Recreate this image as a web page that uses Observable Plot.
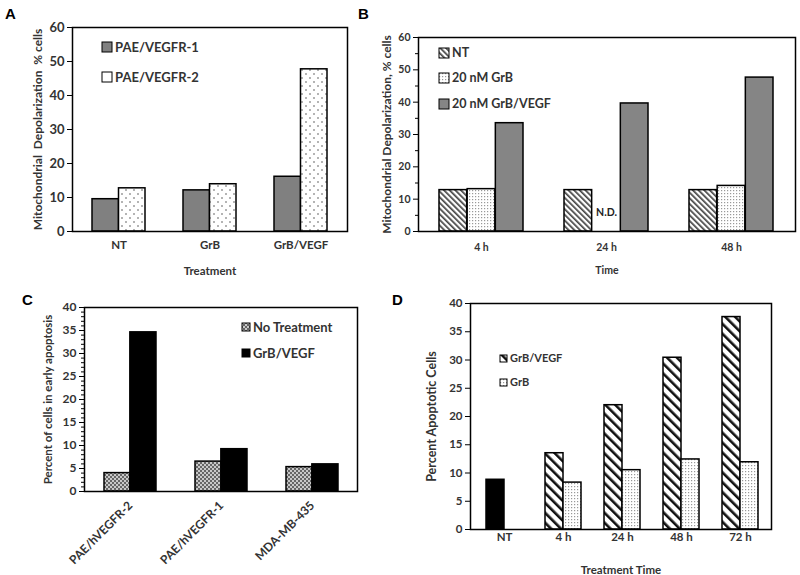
<!DOCTYPE html>
<html><head><meta charset="utf-8">
<script src="https://cdn.jsdelivr.net/npm/d3@7"></script>
<script src="https://cdn.jsdelivr.net/npm/@observablehq/plot@0.6"></script>
<style>
body{margin:0;background:#fff;font-family:Lato,"Open Sans",sans-serif;}
#root{position:relative;width:800px;height:575px;overflow:hidden;background:#fff;}
.panel{position:absolute;}
.letter{position:absolute;font-family:"Liberation Sans",Arial,sans-serif;font-weight:bold;font-size:15px;line-height:15px;color:#000;}
.lg{position:absolute;display:flex;align-items:center;gap:2px;font-weight:bold;color:#333;white-space:nowrap;line-height:16px;height:16px;}
.lg svg{display:block;flex:none;}
</style></head><body>
<svg width="0" height="0" style="position:absolute">
<defs>
<pattern id="dotsSparse" width="8" height="8" patternUnits="userSpaceOnUse">
 <rect width="8" height="8" fill="#fff"/>
 <circle cx="2" cy="2" r="0.8" fill="#555"/><circle cx="6" cy="6" r="0.8" fill="#555"/>
</pattern>
<pattern id="dotsFine" width="3" height="3" patternUnits="userSpaceOnUse">
 <rect width="3" height="3" fill="#fff"/><rect x="1" y="1" width="1.2" height="1.2" fill="#999"/>
</pattern>
<pattern id="hatchFine" width="4" height="4" patternUnits="userSpaceOnUse" patternTransform="rotate(-45)">
 <rect width="4" height="4" fill="#fff"/><rect width="1.7" height="4" fill="#444"/>
</pattern>
<pattern id="hatchWide" width="7" height="7" patternUnits="userSpaceOnUse" patternTransform="rotate(-45)">
 <rect width="7" height="7" fill="#fff"/><rect width="2.6" height="7" fill="#111"/>
</pattern>
<pattern id="checker" width="4" height="4" patternUnits="userSpaceOnUse">
 <rect width="4" height="4" fill="#c8c8c8"/><rect width="2" height="2" fill="#666"/><rect x="2" y="2" width="2" height="2" fill="#666"/>
</pattern>
</defs></svg>
<div id="root"></div>
<script>
// ---------- DATA ----------
// Panel A
const aCats = ["NT", "GrB", "GrB/VEGF"];
const aVegfr1 = [9.5, 12.1, 16.1];
const aVegfr2 = [12.7, 13.9, 47.7];
const aSeriesNames = ["PAE/VEGFR-1", "PAE/VEGFR-2"];
const aYTicks = [0, 10, 20, 30, 40, 50, 60];
// Panel B
const bCats = ["4 h", "24 h", "48 h"];
const bNT = [12.8, 12.8, 12.8];
const bGrB = [13.1, null, 14.1];
const bGrBVEGF = [33.5, 39.6, 47.6];
const bSeriesNames = ["NT", "20 nM GrB", "20 nM GrB/VEGF"];
const bYTicks = [0, 10, 20, 30, 40, 50, 60];
const bYMinor = [5, 15, 25, 35, 45, 55];
const bNote = [{cat: "24 h", v: 5.8, text: "N.D."}];
// Panel C
const cCats = ["PAE/hVEGFR-2", "PAE/hVEGFR-1", "MDA-MB-435"];
const cNoTreat = [4.0, 6.5, 5.3];
const cGrBVEGF = [34.6, 9.2, 5.9];
const cSeriesNames = ["No Treatment", "GrB/VEGF"];
const cYTicks = [0, 5, 10, 15, 20, 25, 30, 35, 40];
const cYMinor = d3.range(0, 41).filter(v => v % 5 !== 0);
// Panel D
const dCats = ["NT", "4 h", "24 h", "48 h", "72 h"];
const dNT = [8.8, null, null, null, null];
const dGrBVEGF = [null, 13.5, 22.0, 30.4, 37.6];
const dGrB = [null, 8.3, 10.5, 12.4, 11.9];
const dSeriesNames = ["GrB/VEGF", "GrB"];
const dYTicks = [0, 5, 10, 15, 20, 25, 30, 35, 40];

const root = document.getElementById("root");
const FONT = "Lato, 'Open Sans', sans-serif";
const INK = "#333";

function panel(cfg) {
  const {cats, series, slots, width, height, margin, xRange, groupW, yMax,
         yTicks, yMinor, yLabel, yLabelOffset, yTickFs, yLabelFs,
         xLabel, xLabelOffset, xTickFs, xTickPad, xRotate, extra = []} = cfg;
  const x0 = xRange ? xRange[0] : margin.left;
  const x1 = xRange ? xRange[1] : width - margin.right;
  const step = (x1 - x0) / cats.length;
  const p = 1 - groupW / step;
  const w = groupW / slots;
  const marks = [];
  series.forEach(s => {
    const data = cats.map((c, i) => ({cat: c, v: s.values[i]})).filter(d => d.v != null);
    marks.push(Plot.barY(data, {x: "cat", y: "v", fill: s.fill, stroke: "#000", strokeWidth: 1.5,
      insetLeft: s.slot * w, insetRight: (slots - 1 - s.slot) * w}));
  });
  marks.push(...extra);
  marks.push(Plot.frame({stroke: "#000", strokeWidth: 1.5}));
  marks.push(Plot.axisY({ticks: yTicks, tickSize: 5, tickPadding: 3, label: null,
    fontSize: yTickFs, fontWeight: "bold", fill: INK}));
  if (yMinor) marks.push(Plot.axisY({ticks: yMinor, tickSize: 3, tickFormat: () => "", label: null}));
  marks.push(Plot.axisY({ticks: [], tickSize: 0, label: yLabel, labelAnchor: "center", labelArrow: "none",
    labelOffset: yLabelOffset, fontSize: yLabelFs, fontWeight: "bold", fill: INK}));
  marks.push(Plot.axisX({tickSize: 0, tickPadding: xTickPad, tickRotate: xRotate || 0,
    label: xLabel, labelAnchor: "center", labelArrow: "none", labelOffset: xLabelOffset,
    fontSize: xTickFs, fontWeight: "bold", fill: INK}));
  return Plot.plot({
    width, height,
    marginLeft: margin.left, marginRight: margin.right, marginTop: margin.top, marginBottom: margin.bottom,
    style: {fontFamily: FONT, background: "transparent", overflow: "visible"},
    x: {domain: cats, range: xRange, paddingInner: p, paddingOuter: p / 2, align: 0.5},
    y: {domain: [0, yMax]},
    marks
  });
}

function place(el, left, top) {
  el.classList.add("panel");
  el.style.left = left + "px";
  el.style.top = top + "px";
  root.appendChild(el);
}
function letter(t, left, top) {
  const d = document.createElement("div");
  d.className = "letter"; d.textContent = t;
  d.style.left = left + "px"; d.style.top = top + "px";
  root.appendChild(d);
}
function legend(items, left, tops, size, fs) {
  items.forEach((it, i) => {
    const row = document.createElement("div");
    row.className = "lg";
    row.style.left = left + "px";
    row.style.top = (tops[i] - 8) + "px";
    row.style.fontSize = fs + "px";
    row.innerHTML = `<svg width="${size + 2}" height="${size + 2}"><rect x="1" y="1" width="${size}" height="${size}" fill="${it.fill}" stroke="#000" stroke-width="1"/></svg><span>${it.name}</span>`;
    root.appendChild(row);
  });
}

// Panel A
place(panel({
  cats: aCats, slots: 2, width: 360, height: 290,
  margin: {left: 72, right: 13, top: 27, bottom: 59}, groupW: 53, yMax: 60,
  series: [{values: aVegfr1, fill: "#808080", slot: 0}, {values: aVegfr2, fill: "url(#dotsSparse)", slot: 1}],
  yTicks: aYTicks, yLabel: "Mitochondrial  Depolarization  % cells", yLabelOffset: 39, yTickFs: 13, yLabelFs: 12,
  xLabel: "Treatment", xLabelOffset: 43, xTickFs: 11.5, xTickPad: 9
}), 0, 0);
legend([{name: aSeriesNames[0], fill: "#808080"}, {name: aSeriesNames[1], fill: "#fff"}], 101, [47, 77], 10, 13);

// Panel B
place(panel({
  cats: bCats, slots: 3, width: 440, height: 290,
  margin: {left: 58, right: 5, top: 37, bottom: 59}, groupW: 84.5, yMax: 60,
  series: [{values: bNT, fill: "url(#hatchFine)", slot: 0}, {values: bGrB, fill: "url(#dotsFine)", slot: 1},
           {values: bGrBVEGF, fill: "#858585", slot: 2}],
  yTicks: bYTicks, yMinor: bYMinor, yLabel: "Mitochondrial Depolarization, % cells", yLabelOffset: 36, yTickFs: 10.5, yLabelFs: 12,
  xLabel: "Time", xLabelOffset: 42, xTickFs: 10.5, xTickPad: 12,
  extra: [Plot.text(bNote, {x: "cat", y: "v", text: "text", fontSize: 10.5, fontWeight: "bold", fill: "#222"})]
}), 360, 0);
legend([{name: bSeriesNames[0], fill: "url(#hatchFine)"}, {name: bSeriesNames[1], fill: "url(#dotsFine)"},
        {name: bSeriesNames[2], fill: "#858585"}], 438, [53, 78, 104], 10, 12.5);

// Panel C
place(panel({
  cats: cCats, slots: 2, width: 360, height: 285,
  margin: {left: 84, right: 3, top: 17, bottom: 84}, groupW: 51.7, yMax: 40,
  series: [{values: cNoTreat, fill: "url(#checker)", slot: 0}, {values: cGrBVEGF, fill: "#000", slot: 1}],
  yTicks: cYTicks, yMinor: cYMinor, yLabel: "Percent of cells in early apoptosis", yLabelOffset: 41, yTickFs: 12, yLabelFs: 11.5,
  xLabel: null, xLabelOffset: 0, xTickFs: 12, xTickPad: 12, xRotate: -45
}), 0, 290);
legend([{name: cSeriesNames[0], fill: "url(#checker)"}, {name: cSeriesNames[1], fill: "#000"}], 241, [327, 353], 8, 13);

// Panel D
place(panel({
  cats: dCats, slots: 2, width: 440, height: 285,
  margin: {left: 110, right: 29, top: 13, bottom: 46}, xRange: [114, 410], groupW: 36, yMax: 40,
  series: [{values: dNT, fill: "#000", slot: 0}, {values: dGrBVEGF, fill: "url(#hatchWide)", slot: 0},
           {values: dGrB, fill: "url(#dotsFine)", slot: 1}],
  yTicks: dYTicks, yLabel: "Percent Apoptotic Cells", yLabelOffset: 43, yTickFs: 11.5, yLabelFs: 12.5,
  xLabel: "Treatment Time", xLabelOffset: 44, xTickFs: 11.5, xTickPad: 3
}), 360, 290);
legend([{name: dSeriesNames[0], fill: "url(#hatchWide)"}, {name: dSeriesNames[1], fill: "url(#dotsFine)"}], 499, [358, 382], 7, 11);

letter("A", 5, 6);
letter("B", 358, 6);
letter("C", 22, 292);
letter("D", 392, 292);
</script>
</body></html>
